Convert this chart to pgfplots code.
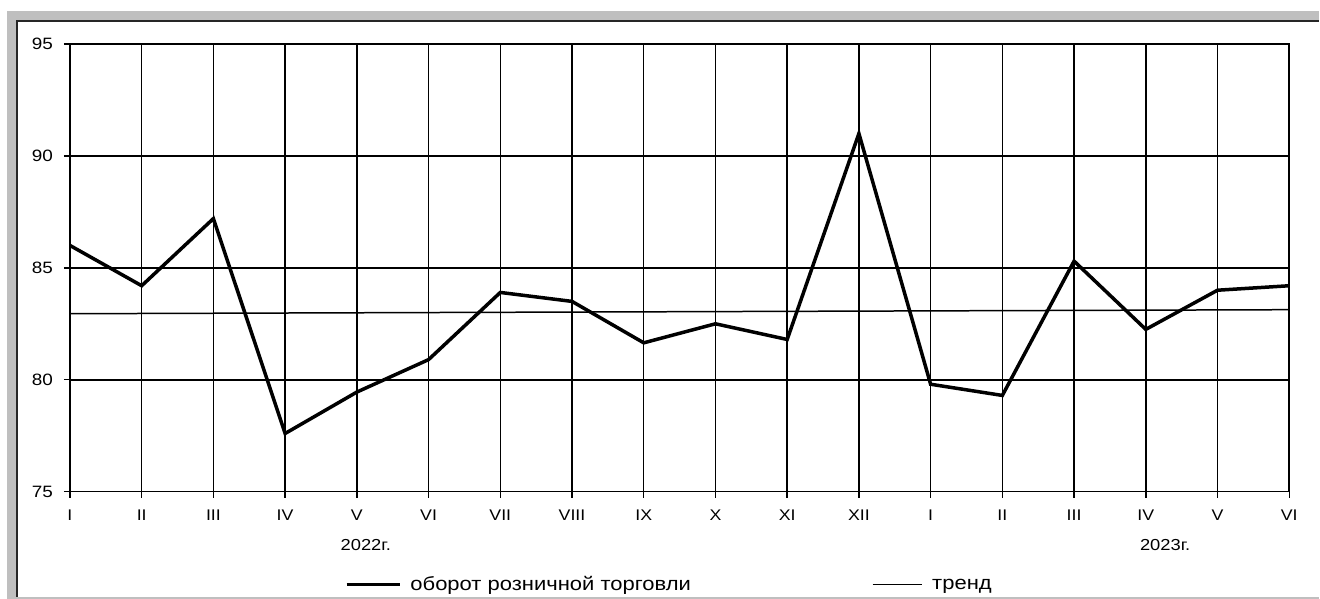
\documentclass[border=0pt]{standalone}
\usepackage{fontspec}
\setmainfont{Liberation Sans}[FakeStretch=1.15]
\usepackage{pgfplots}
\pgfplotsset{compat=1.18}
\begin{document}
\begin{tikzpicture}
\begin{scope}[x=1bp,y=1bp]
\fill[white] (0,0) rectangle (1320,599);
\fill[black!25] (7,0) rectangle (1320,588);
\fill[white] (17.5,2) rectangle (1320,577.5);
\draw[black!85, line width=1.6bp] (16.9,2) -- (16.9,578.2) -- (1320,578.2);
\end{scope}
\begin{axis}[
  at={(70bp,107bp)}, anchor=south west, scale only axis,
  width=1220bp, height=448bp,
  xmin=0, xmax=17, ymin=75, ymax=95,
  xtick={0,...,17},
  xticklabels={I,II,III,IV,V,VI,VII,VIII,IX,X,XI,XII,I,II,III,IV,V,VI},
  ytick={75,80,85,90,95},
  grid=major,
  major grid style={black, line width=1.5bp},
  axis line style={black, line width=1.6bp},
  tick align=outside, major tick length=6bp,
  tick style={black, line width=1.4bp},
  xtick pos=left, ytick pos=left,
  ticklabel style={font=\fontsize{15.5}{15.5}\selectfont, inner sep=0pt},
  /pgf/number format/assume math mode=true,
  yticklabel style={anchor=east, xshift=-11bp, font=\fontsize{16.5}{16.5}\selectfont},
  xticklabel style={anchor=north, yshift=-12bp},
  clip=false,
  legend columns=2,
  legend style={at={(0.2254,-0.2075)}, anchor=west, draw=none, fill=none,
    inner sep=0pt, nodes={inner sep=0pt}, font=\fontsize{19.2}{19.2}\selectfont,
    /tikz/every odd column/.append style={column sep=9bp},
    /tikz/every even column/.append style={column sep=181bp}},
]
\addplot[black, line width=3.5bp, line join=miter,
  legend image code/.code={\draw[black, line width=3.5bp] (0bp,0bp) -- (53bp,0bp);}]
  coordinates {
  (0,86.0) (1,84.2) (2,87.2) (3,77.6) (4,79.45) (5,80.9) (6,83.9) (7,83.5)
  (8,81.65) (9,82.5) (10,81.8) (11,91.0) (12,79.8) (13,79.3) (14,85.3)
  (15,82.25) (16,84.0) (17,84.2)};
\addlegendentry{оборот розничной торговли}
\addplot[black, line width=1.5bp,
  legend image code/.code={\draw[black, line width=1.5bp] (0bp,0bp) -- (50bp,0bp);}]
  coordinates {(0,82.95) (17,83.13)};
\addlegendentry{тренд}
\node[font=\fontsize{16}{16}\selectfont, inner sep=0pt] at (axis cs:4.125,75) [yshift=-53.5bp] {2022г.};
\node[font=\fontsize{16}{16}\selectfont, inner sep=0pt] at (axis cs:15.27,75) [yshift=-53.5bp] {2023г.};
\end{axis}
\end{tikzpicture}
\end{document}
